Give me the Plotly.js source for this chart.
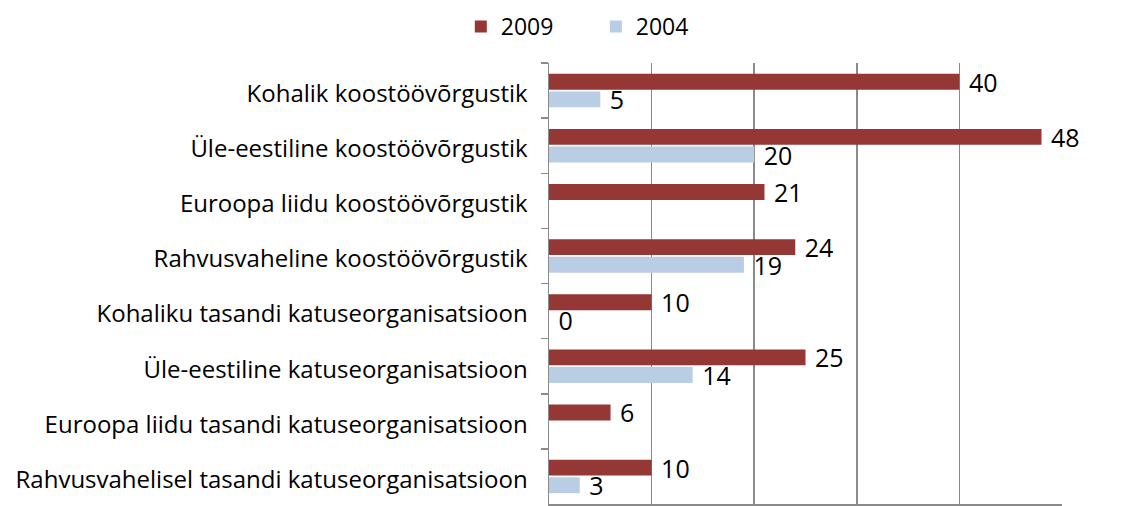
<!DOCTYPE html>
<html>
<head>
<meta charset="utf-8">
<script src="https://cdn.plot.ly/plotly-3.0.1.min.js"></script>
<style>
  html, body { margin: 0; padding: 0; background: #fff; }
  #chart { width: 1148px; height: 506px; }
</style>
</head>
<body>
<div id="chart"></div>
<script>
const categories = [
  "Kohalik koostöövõrgustik",
  "Üle-eestiline koostöövõrgustik",
  "Euroopa liidu koostöövõrgustik",
  "Rahvusvaheline koostöövõrgustik",
  "Kohaliku tasandi katuseorganisatsioon",
  "Üle-eestiline katuseorganisatsioon",
  "Euroopa liidu tasandi katuseorganisatsioon",
  "Rahvusvahelisel tasandi katuseorganisatsioon"
];
const values2009 = [40, 48, 21, 24, 10, 25, 6, 10];
const values2004 = [5, 20, null, 19, 0, 14, null, 3];
const seriesNames = ["2009", "2004"];
const xTicks = [0, 10, 20, 30, 40, 50];

const labelFont = { family: "Open Sans, sans-serif", size: 25, color: "#000" };

const traces = [
  {
    type: "bar", orientation: "h", name: seriesNames[0],
    y: categories, x: values2009,
    marker: { color: "#953735" },
    texttemplate: "\u00a0%{x}", textposition: "outside",
    constraintext: "none", cliponaxis: false,
    textfont: labelFont, hoverinfo: "none"
  },
  {
    type: "bar", orientation: "h", name: seriesNames[1],
    y: categories, x: values2004,
    marker: { color: "#B9CDE5" },
    texttemplate: "\u00a0%{x}", textposition: "outside",
    constraintext: "none", cliponaxis: false,
    textfont: labelFont, hoverinfo: "none"
  }
];

const layout = {
  width: 1148, height: 506,
  margin: { l: 549, r: 86, t: 63, b: 2, pad: 0 },
  paper_bgcolor: "#fff", plot_bgcolor: "#fff",
  barmode: "group", bargap: 0.36, bargroupgap: 0.1,
  showlegend: true,
  legend: {
    orientation: "h", xref: "container", yref: "container",
    x: 0.519, xanchor: "center", y: 0.99, yanchor: "top",
    entrywidth: 90,
    font: { family: "Open Sans, sans-serif", size: 23, color: "#000" },
    traceorder: "normal"
  },
  xaxis: {
    range: [0, 50], tickvals: xTicks, showticklabels: false,
    showgrid: true, gridcolor: "#8a8a8a", gridwidth: 1.5,
    zeroline: false, showline: true, linecolor: "#8a8a8a", linewidth: 1.5,
    ticks: "", fixedrange: true
  },
  yaxis: {
    autorange: "reversed", type: "category",
    showline: true, linecolor: "#8a8a8a", linewidth: 1.5,
    ticks: "outside", tickson: "boundaries", ticklen: 7, tickcolor: "#8a8a8a", tickwidth: 1.5,
    ticklabelstandoff: 15, ticklabelshift: -3,
    tickfont: { family: "Open Sans, sans-serif", size: 24, color: "#000" },
    showgrid: false, zeroline: false, fixedrange: true
  }
};

Plotly.newPlot("chart", traces, layout, { displayModeBar: false, staticPlot: true });
</script>
</body>
</html>
